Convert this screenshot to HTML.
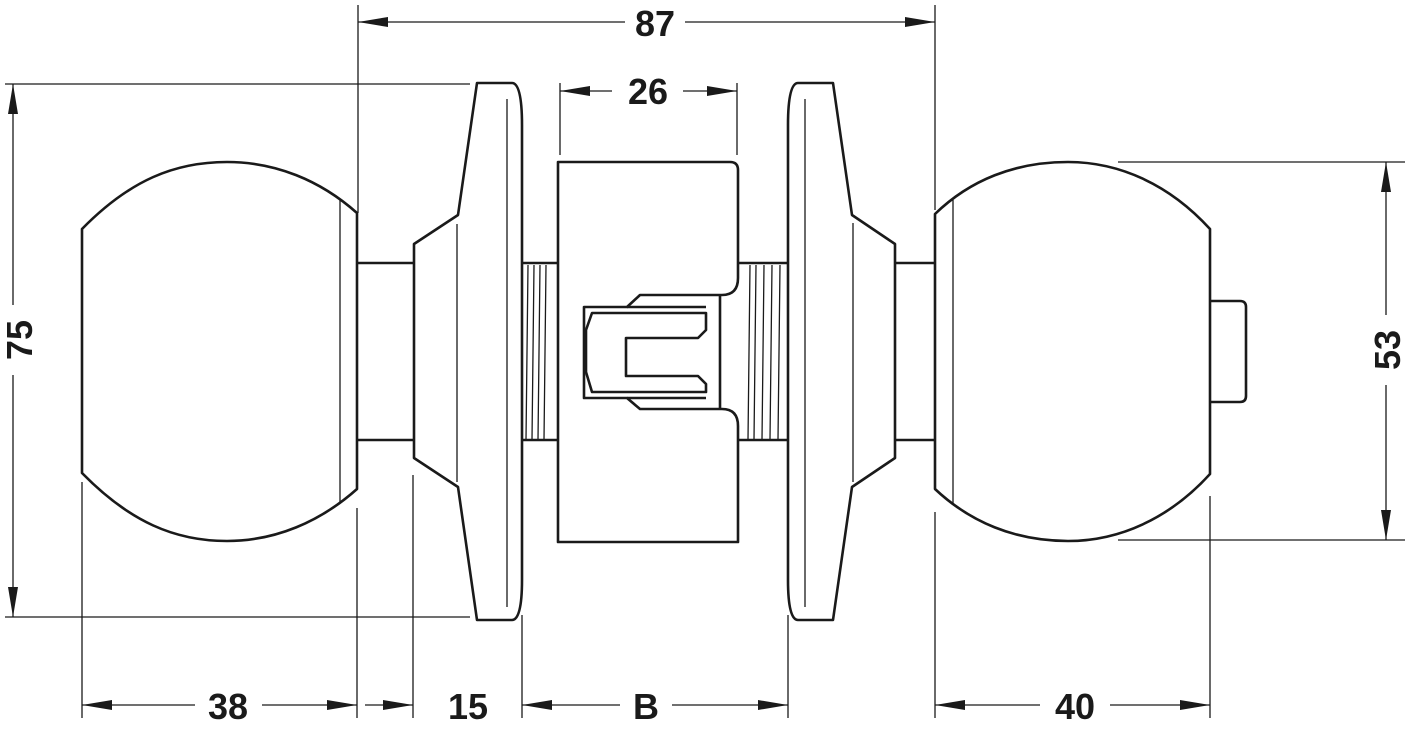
<!DOCTYPE html>
<html><head><meta charset="utf-8"><style>
html,body{margin:0;padding:0;background:#fff;}
svg{display:block}
text{font-family:"Liberation Sans",sans-serif;font-weight:bold;font-size:36px;fill:#1a1a1a}
</style></head><body>
<svg width="1407" height="730" viewBox="0 0 1407 730" xmlns="http://www.w3.org/2000/svg">
<defs>
<marker id="a" viewBox="0 0 30 12" refX="30" refY="6" markerWidth="30" markerHeight="12" markerUnits="userSpaceOnUse" orient="auto-start-reverse"><path d="M0,1 L30,6 L0,11 Z" fill="#1a1a1a"/></marker>
</defs>
<g fill="none" stroke="#1a1a1a" stroke-width="1.3">
<line x1="358" y1="5" x2="358" y2="213"/>
<line x1="935" y1="5" x2="935" y2="210"/>
<line x1="560" y1="83" x2="560" y2="155"/>
<line x1="737" y1="83" x2="737" y2="155"/>
<line x1="5" y1="84" x2="470" y2="84"/>
<line x1="5" y1="617" x2="470" y2="617"/>
<line x1="1118" y1="162" x2="1405" y2="162"/>
<line x1="1118" y1="540" x2="1405" y2="540"/>
<line x1="82" y1="482" x2="82" y2="718"/>
<line x1="357" y1="508" x2="357" y2="718"/>
<line x1="413" y1="475" x2="413" y2="718"/>
<line x1="522" y1="615" x2="522" y2="718"/>
<line x1="788" y1="615" x2="788" y2="718"/>
<line x1="935" y1="512" x2="935" y2="718"/>
<line x1="1210" y1="496" x2="1210" y2="718"/>
<line x1="358" y1="22" x2="625" y2="22" marker-start="url(#a)"/>
<line x1="685" y1="22" x2="935" y2="22" marker-end="url(#a)"/>
<line x1="560" y1="91" x2="612" y2="91" marker-start="url(#a)"/>
<line x1="683" y1="91" x2="737" y2="91" marker-end="url(#a)"/>
<line x1="13" y1="84" x2="13" y2="305" marker-start="url(#a)"/>
<line x1="13" y1="375" x2="13" y2="617" marker-end="url(#a)"/>
<line x1="1386" y1="162" x2="1386" y2="315" marker-start="url(#a)"/>
<line x1="1386" y1="385" x2="1386" y2="540" marker-end="url(#a)"/>
<line x1="82" y1="705" x2="195" y2="705" marker-start="url(#a)"/>
<line x1="262" y1="705" x2="357" y2="705" marker-end="url(#a)"/>
<line x1="365" y1="705" x2="413" y2="705" marker-end="url(#a)"/>
<line x1="522" y1="705" x2="620" y2="705" marker-start="url(#a)"/>
<line x1="672" y1="705" x2="788" y2="705" marker-end="url(#a)"/>
<line x1="935" y1="705" x2="1040" y2="705" marker-start="url(#a)"/>
<line x1="1110" y1="705" x2="1210" y2="705" marker-end="url(#a)"/>
<line x1="340" y1="200" x2="340" y2="502"/>
<line x1="457" y1="224" x2="457" y2="482"/>
<line x1="507" y1="99" x2="507" y2="607"/>
<line x1="805" y1="99" x2="805" y2="607"/>
<line x1="853" y1="223" x2="853" y2="482"/>
<line x1="953" y1="200" x2="953" y2="503"/>
<path d="M528,265 L526,440 M534,265 L532,440 M540,265 L538,440 M546,265 L544,440"/>
<path d="M750,265 L748,440 M756,265 L754,440 M764,265 L762,440 M772,265 L770,440 M780,265 L778,440"/>
</g>
<g fill="none" stroke="#1a1a1a" stroke-width="2.6" stroke-linejoin="round">
<path d="M82,229 C130,180 175,162 227,162 C275,162 320,180 357,213 L357,489 C320,522 275,541 227,541 C175,541 130,522 82,473 Z"/>
<line x1="357" y1="263" x2="415" y2="263"/><line x1="357" y1="440" x2="415" y2="440"/>
<path d="M522,263 L522,125 Q522,83 512,83 L477,83 L458,215 L414,244 L414,458 L458,487 L477,620 L512,620 Q522,620 522,580 Z"/>
<line x1="522" y1="263" x2="558" y2="263"/><line x1="522" y1="440" x2="558" y2="440"/>
<path d="M558,162 L730,162 Q738,162 738,170 L738,278 Q738,295 722,295 L640,295 L627,307 L584,307 L584,398 L627,398 L640,409 L722,409 Q738,409 738,426 L738,542 L558,542 Z"/>
<path d="M720,295 L720,409"/>
<path d="M592,313 L706,313 L706,330 L698,338 L626,338 L626,376 L698,376 L706,384 L706,392 L592,392 L586,372 L586,330 Z"/>
<path d="M627,307 L706,307 M627,398 L706,398"/>
<line x1="738" y1="263" x2="788" y2="263"/><line x1="738" y1="440" x2="788" y2="440"/>
<path d="M788,263 L788,125 Q788,83 798,83 L833,83 L852,215 L895,244 L895,458 L852,487 L833,620 L798,620 Q788,620 788,580 Z"/>
<line x1="895" y1="263" x2="935" y2="263"/><line x1="895" y1="440" x2="935" y2="440"/>
<path d="M935,214 C970,180 1015,162 1068,162 C1120,162 1170,185 1210,229 L1210,474 C1170,518 1120,541 1068,541 C1015,541 970,522 935,489 Z"/>
<path d="M1210,301 L1240,301 Q1246,301 1246,307 L1246,396 Q1246,402 1240,402 L1210,402"/>
</g>
<text x="655" y="36" text-anchor="middle">87</text>
<text x="648" y="104" text-anchor="middle">26</text>
<text x="228" y="719" text-anchor="middle">38</text>
<text x="468" y="719" text-anchor="middle">15</text>
<text x="646" y="719" text-anchor="middle">B</text>
<text x="1075" y="719" text-anchor="middle">40</text>
<text transform="translate(32,340) rotate(-90)" text-anchor="middle">75</text>
<text transform="translate(1400,350) rotate(-90)" text-anchor="middle">53</text>
</svg>
</body></html>
